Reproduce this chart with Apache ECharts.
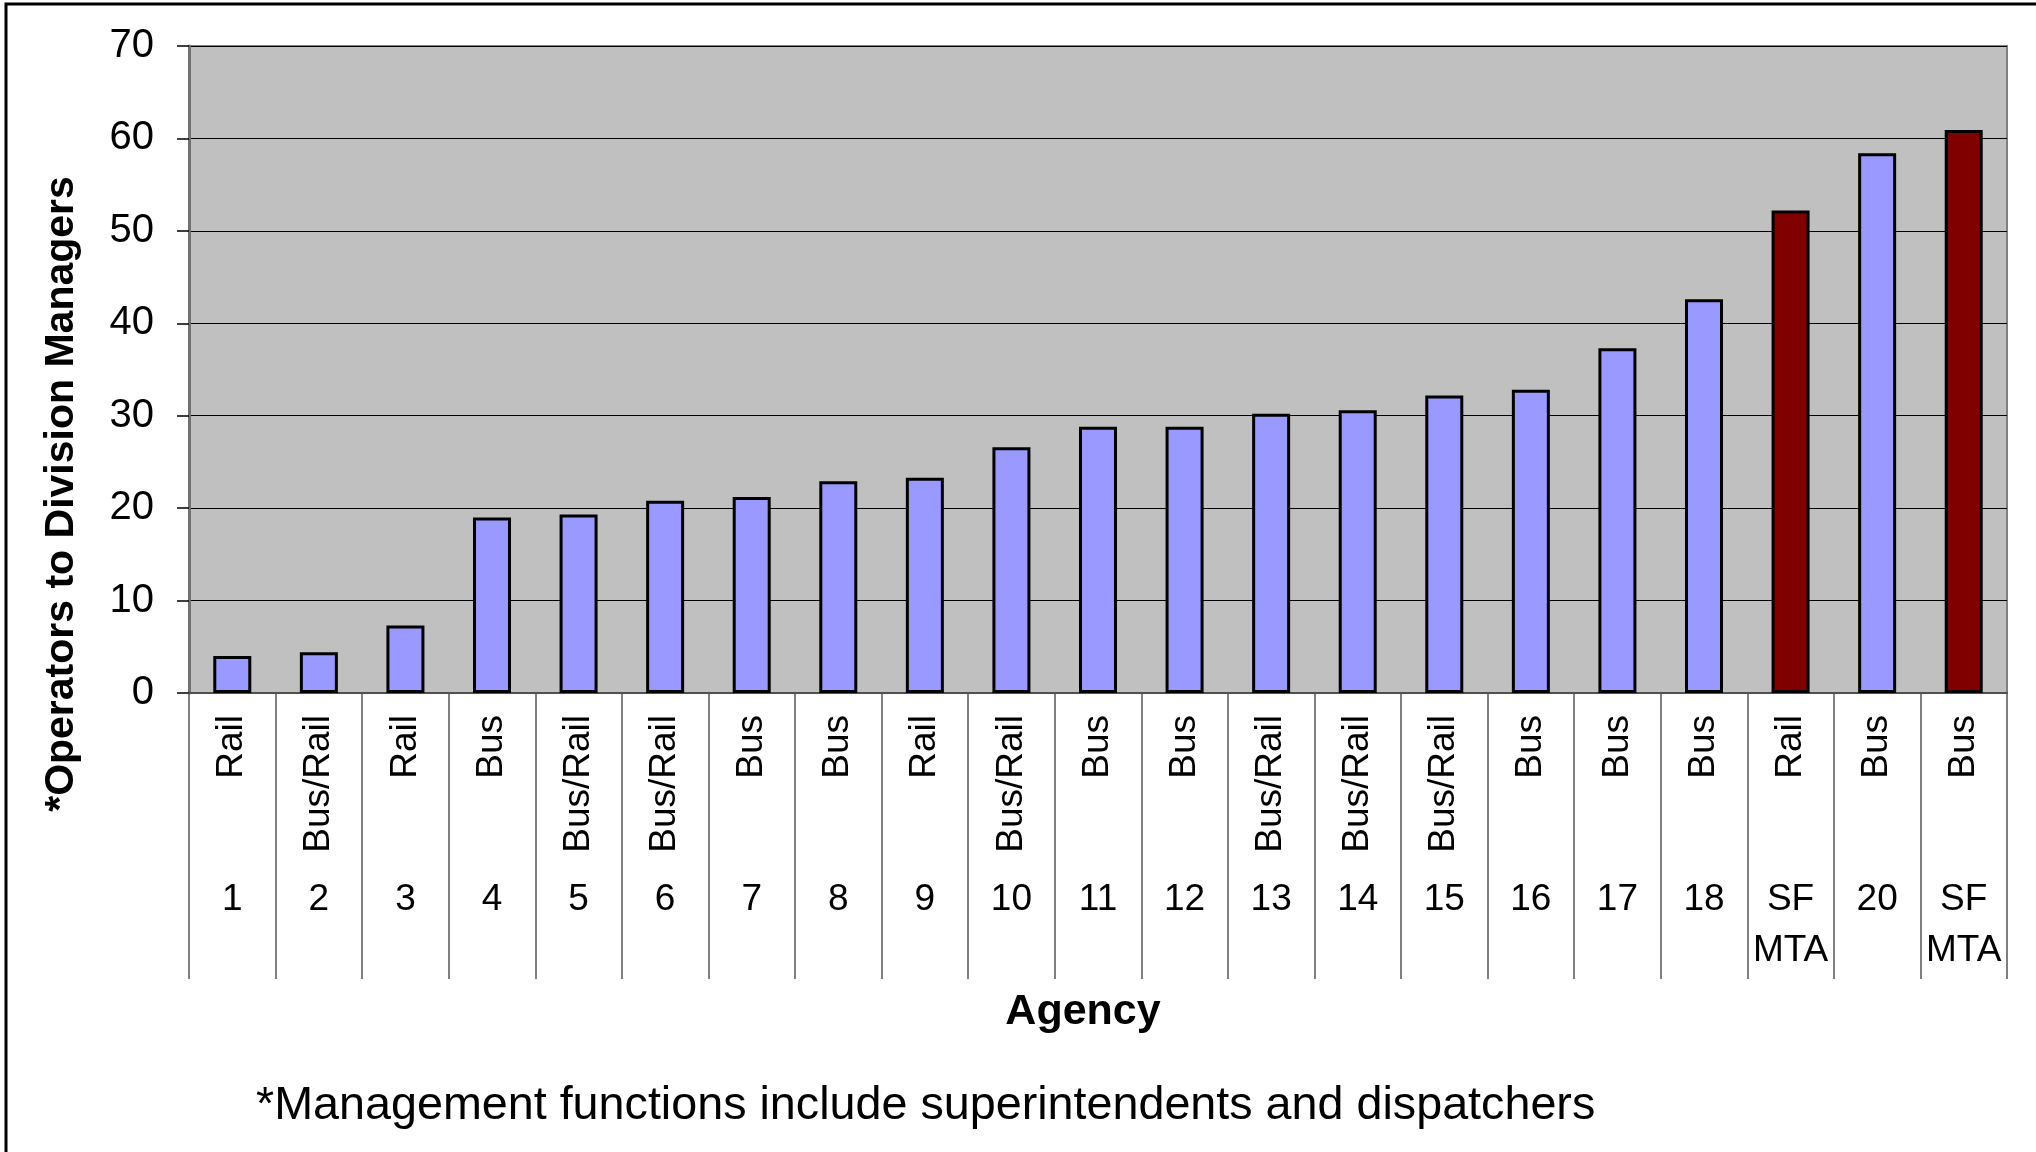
<!DOCTYPE html>
<html>
<head>
<meta charset="utf-8">
<script src="https://cdn.jsdelivr.net/npm/echarts@6/dist/echarts.min.js"></script>
<style>
html,body{margin:0;padding:0;background:#fff;}
#chart{width:2036px;height:1152px;}
</style>
</head>
<body>
<div id="chart"></div>
<script>
// ---- data ----
const agencyLabels = ['1','2','3','4','5','6','7','8','9','10','11','12','13','14','15','16','17','18','SF\nMTA','20','SF\nMTA'];
const modeLabels = ['Rail','Bus/Rail','Rail','Bus','Bus/Rail','Bus/Rail','Bus','Bus','Rail','Bus/Rail','Bus','Bus','Bus/Rail','Bus/Rail','Bus/Rail','Bus','Bus','Bus','Rail','Bus','Bus'];
const ratios = [4.0, 4.4, 7.3, 19.0, 19.3, 20.8, 21.2, 22.9, 23.3, 26.6, 28.8, 28.8, 30.2, 30.6, 32.2, 32.8, 37.3, 42.6, 52.2, 58.4, 60.9];
const yAxisTitle = '*Operators to Division Managers';
const xAxisTitle = 'Agency';
const footnote = '*Management functions include superintendents and dispatchers';
const highlightAgency = 'SF\nMTA';

const FONT = '"Liberation Sans", Arial, sans-serif';
const chart = echarts.init(document.getElementById('chart'), null, {renderer: 'canvas'});

const barData = ratios.map((v, i) => ({
  value: v,
  itemStyle: { color: agencyLabels[i] === highlightAgency ? '#800000' : '#9999FF' }
}));

chart.setOption({
  animation: false,
  backgroundColor: '#ffffff',
  grid: {
    left: 189, right: 29, top: 46, bottom: 459,
    show: true, backgroundColor: '#C0C0C0', borderColor: '#808080', borderWidth: 2
  },
  xAxis: [
    {
      type: 'category', data: modeLabels, position: 'bottom',
      axisLine: { show: true, lineStyle: { color: '#505050', width: 2 } },
      axisTick: { show: true, interval: 0, length: 286, lineStyle: { color: '#555555', width: 1.5 } },
      axisLabel: { interval: 0, rotate: 90, margin: 22, fontSize: 37, fontFamily: FONT, color: '#000' }
    },
    {
      type: 'category', data: agencyLabels, position: 'bottom',
      axisLine: { show: false }, axisTick: { show: false },
      axisLabel: { interval: 0, margin: 181, fontSize: 37, lineHeight: 51, fontFamily: FONT, color: '#000' }
    }
  ],
  yAxis: {
    type: 'value', min: 0, max: 70, interval: 10,
    axisLine: { show: true, lineStyle: { color: '#707070', width: 3 } },
    axisTick: { show: true, inside: false, length: 12, lineStyle: { color: '#000', width: 1.5 } },
    axisLabel: { margin: 35, fontSize: 40, fontFamily: FONT, color: '#000' },
    splitLine: { show: true, lineStyle: { color: '#000', width: 1.2 } }
  },
  series: [{
    type: 'bar', xAxisIndex: 0, data: barData, barWidth: 38,
    itemStyle: { borderColor: '#000', borderWidth: 3 }
  }],
  graphic: [
    { type: 'rect', shape: { x: 6, y: 4, width: 2100, height: 1300 }, style: { fill: 'none', stroke: '#000', lineWidth: 3 }, silent: true },
    { type: 'text', x: 62, y: 494, rotation: Math.PI / 2,
      style: { text: yAxisTitle, font: 'bold 41px ' + FONT, fill: '#000', align: 'center', verticalAlign: 'middle' } },
    { type: 'text', x: 1083, y: 1012,
      style: { text: xAxisTitle, font: 'bold 43px ' + FONT, fill: '#000', align: 'center', verticalAlign: 'middle' } },
    { type: 'text', x: 256, y: 1106,
      style: { text: footnote, font: '46.7px ' + FONT, fill: '#000', align: 'left', verticalAlign: 'middle' } }
  ]
});
</script>
</body>
</html>
